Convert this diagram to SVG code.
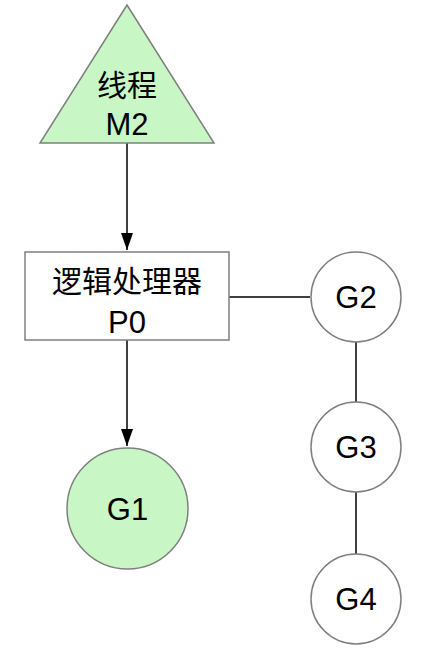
<svg xmlns="http://www.w3.org/2000/svg" width="428" height="648" viewBox="0 0 428 648">
<style>
text{font-family:"Liberation Sans","Noto Sans CJK SC",sans-serif;font-size:30px;fill:#000;text-anchor:middle}
.l{font-size:31px}
.n{stroke:#808080;stroke-width:1.5}
.g{fill:#c8f7c5}
.w{fill:#fff}
.c{stroke:#000;stroke-width:1.5;fill:none}
</style>
<defs>
<marker id="ah" markerWidth="17" markerHeight="12" refX="17" refY="6" orient="auto" markerUnits="userSpaceOnUse" viewBox="0 0 17 12">
<path d="M0,0 L17,6 L0,12 Z" fill="#000"/>
</marker>
</defs>
<rect width="428" height="648" fill="#fff"/>
<g id="connectors">
<line class="c" x1="127" y1="143" x2="127" y2="250" marker-end="url(#ah)"/>
<line class="c" x1="127" y1="340" x2="127" y2="446" marker-end="url(#ah)"/>
<line class="c" x1="229" y1="297" x2="310" y2="297"/>
<line class="c" x1="356" y1="342" x2="356" y2="402"/>
<line class="c" x1="356" y1="492" x2="356" y2="554"/>
</g>
<g id="M2">
<polygon class="n g" points="127,5 214,143 40,143"/>
<text x="127" y="96">线程</text>
<text class="l" x="127" y="135">M2</text>
</g>
<g id="P0">
<rect class="n w" x="25" y="252" width="204" height="88"/>
<text x="127" y="292">逻辑处理器</text>
<text class="l" x="127" y="333">P0</text>
</g>
<g id="G1">
<circle class="n g" cx="127.5" cy="508.5" r="60.5"/>
<text class="l" x="127.5" y="520">G1</text>
</g>
<g id="G2">
<circle class="n w" cx="356" cy="297" r="45"/>
<text class="l" x="356" y="308">G2</text>
</g>
<g id="G3">
<circle class="n w" cx="356" cy="447" r="45"/>
<text class="l" x="356" y="458">G3</text>
</g>
<g id="G4">
<circle class="n w" cx="356" cy="599" r="45"/>
<text class="l" x="356" y="610">G4</text>
</g>
</svg>
